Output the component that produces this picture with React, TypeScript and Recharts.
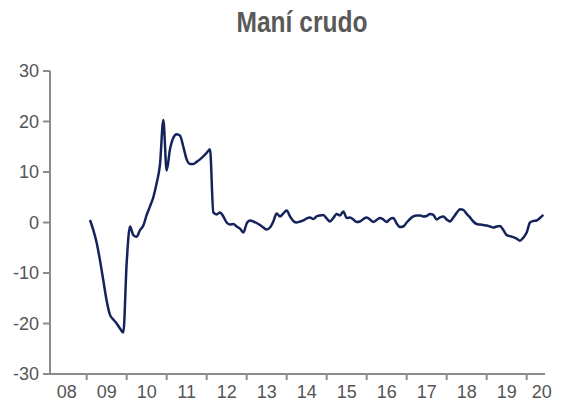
import React from "react";
import { LineChart, Line, XAxis, YAxis } from "recharts";

const title = "Maní crudo";

// months since Jan 2008 (0 = Jan 2008)
const months = [
  13, 14, 15, 16, 17, 18, 19, 20, 21, 22, 23, 24, 25, 26, 27, 28, 29, 30, 31, 32,
  33, 34, 35, 36, 37, 38, 39, 40, 41, 42, 43, 44, 45, 46, 47, 48, 49, 50, 51, 52,
  53, 54, 55, 56, 57, 58, 59, 60, 61, 62, 63, 64, 65, 66, 67, 68, 69, 70, 71, 72,
  73, 74, 75, 76, 77, 78, 79, 80, 81, 82, 83, 84, 85, 86, 87, 88, 89, 90, 91, 92,
  93, 94, 95, 96, 97, 98, 99, 100, 101, 102, 103, 104, 105, 106, 107, 108, 109, 110, 111, 112,
  113, 114, 115, 116, 117, 118, 119, 120, 121, 122, 123, 124, 125, 126, 127, 128, 129, 130, 131, 132,
  133, 134, 135, 136, 137, 138, 139, 140, 141, 142, 143, 144, 145, 146, 147, 148, 149,
];

const values = [
  0.5, -1.5, -4, -7.5, -11.5, -15.5, -18.3, -19.2, -20, -21, -21.8, -8, -0.8, -2.5, -2.8, -1.5, -0.6, 1.5, 3.2, 5,
  7.8, 11.5, 20.3, 10.3, 14.5, 16.8, 17.5, 17.2, 15, 12.5, 11.6, 11.6, 12, 12.5, 13.1, 13.8, 14.5, 2.0, 1.6, 2.0,
  1.2, 0, -0.4, -0.3, -0.8, -1.2, -2.0, -0.2, 0.4, 0.2, -0.1, -0.5, -1.0, -1.4, -1.0, 0.2, 1.8, 1.2, 1.8, 2.4,
  1.2, 0.3, 0.0, 0.2, 0.4, 0.8, 1.0, 0.7, 1.2, 1.4, 1.5, 0.8, 0.2, 0.9, 1.7, 1.4, 2.2, 0.9, 1.0, 0.6,
  0.1, 0.2, 0.7, 1.0, 0.6, 0.1, 0.5, 0.9, 0.6, 0.1, 0.7, 0.9, -0.2, -0.9, -0.8, 0.0, 0.7, 1.2, 1.4, 1.4,
  1.2, 1.3, 1.7, 1.5, 0.6, 1.0, 1.2, 0.6, 0.2, 1.0, 1.9, 2.6, 2.5, 1.7, 1.0, 0.2, -0.3, -0.4, -0.5, -0.6,
  -0.8, -1.0, -0.8, -0.7, -1.5, -2.5, -2.7, -2.9, -3.2, -3.6, -3.0, -2.0, 0.0, 0.3, 0.4, 0.9, 1.5,
];

const yearLabels = ["08", "09", "10", "11", "12", "13", "14", "15", "16", "17", "18", "19", "20"];
const yearBoundaries = [12, 24, 36, 48, 60, 72, 84, 96, 108, 120, 132, 144];
const yearLabelPositions = [6, 18, 30, 42, 54, 66, 78, 90, 102, 114, 126, 138, 148.5];
const yTicks = [-30, -20, -10, 0, 10, 20, 30];

const data = months.map((m, i) => ({ m, v: values[i] }));
const xTicks = [...yearBoundaries, ...yearLabelPositions].sort((a, b) => a - b);

const FONT = "'Liberation Sans', Arial, sans-serif";
const AXIS = "#8c8c8c";
const TEXT = "#555555";

const XTick = (props: any) => {
  const { x, y, payload } = props;
  const v = payload.value;
  const bIdx = yearBoundaries.indexOf(v);
  if (bIdx >= 0) {
    return <line x1={x} x2={x} y1={y - 1} y2={y + 6} stroke={AXIS} strokeWidth={2} />;
  }
  const lIdx = yearLabelPositions.indexOf(v);
  return (
    <text x={x} y={y + 24} textAnchor="middle" fill={TEXT} fontSize={18} fontFamily={FONT}>
      {yearLabels[lIdx]}
    </text>
  );
};

export default function App() {
  return (
    <div style={{ width: 567, height: 406, margin: -8 }}>
      <svg width={567} height={58} style={{ display: "block" }}>
        <text
          x={302}
          y={32}
          textAnchor="middle"
          fill="#595959"
          fontSize={30}
          fontWeight="bold"
          fontFamily={FONT}
          textLength={131}
          lengthAdjust="spacingAndGlyphs"
        >
          {title}
        </text>
      </svg>
      <LineChart
        width={567}
        height={348}
        data={data}
        margin={{ top: 13, right: 22, bottom: 0, left: 10 }}
      >
        <XAxis
          dataKey="m"
          type="number"
          domain={[1, 149.5]}
          ticks={xTicks}
          interval={0}
          tick={<XTick />}
          tickLine={false}
          tickSize={0}
          tickMargin={0}
          height={32}
          axisLine={{ stroke: AXIS, strokeWidth: 2 }}
        />
        <YAxis
          type="number"
          domain={[-30, 30]}
          ticks={yTicks}
          interval={0}
          width={40}
          tickSize={7}
          tickMargin={4}
          tickLine={{ stroke: AXIS, strokeWidth: 2 }}
          axisLine={{ stroke: AXIS, strokeWidth: 2 }}
          tick={{ fill: TEXT, fontSize: 18, fontFamily: FONT }}
        />
        <Line
          dataKey="v"
          type="monotone"
          stroke="#14245a"
          strokeWidth={2.5}
          dot={false}
          isAnimationActive={false}
        />
      </LineChart>
    </div>
  );
}
